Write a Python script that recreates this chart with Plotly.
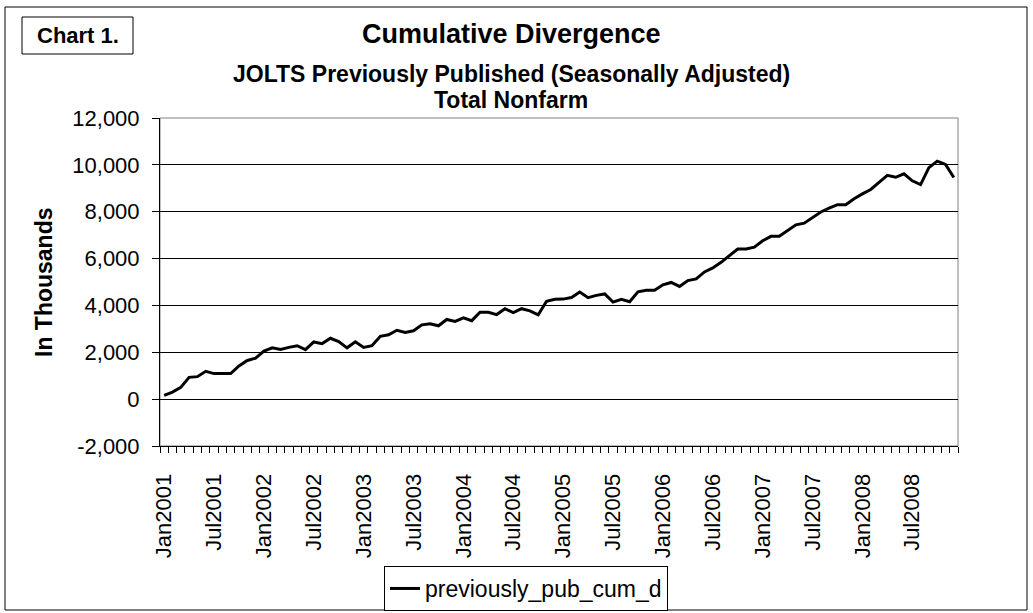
import plotly.graph_objects as go

# ---------------- data ----------------
month_names = ["Jan", "Feb", "Mar", "Apr", "May", "Jun",
               "Jul", "Aug", "Sep", "Oct", "Nov", "Dec"]
years = list(range(2001, 2009))
categories = [f"{m}{y}" for y in years for m in month_names]

previously_pub_cum_d = [
    160, 300, 500, 930, 960, 1190, 1090, 1090, 1090, 1420, 1650, 1750,      # 2001
    2050, 2190, 2120, 2210, 2280, 2110, 2440, 2370, 2600, 2460, 2190, 2450,  # 2002
    2210, 2280, 2680, 2750, 2940, 2850, 2920, 3170, 3220, 3130, 3400, 3320,  # 2003
    3470, 3350, 3710, 3710, 3610, 3860, 3690, 3860, 3770, 3600, 4180, 4260,  # 2004
    4270, 4340, 4570, 4330, 4430, 4490, 4140, 4260, 4160, 4580, 4650, 4650,  # 2005
    4880, 4980, 4810, 5060, 5130, 5430, 5600, 5840, 6130, 6410, 6410, 6490,  # 2006
    6760, 6950, 6950, 7200, 7440, 7510, 7740, 7990, 8150, 8300, 8300, 8550,  # 2007
    8760, 8950, 9250, 9550, 9470, 9620, 9320, 9160, 9880, 10160, 10020, 9460 # 2008
]

y_tick_vals = [-2000, 0, 2000, 4000, 6000, 8000, 10000, 12000]
y_tick_text = ["-2,000", "0", "2,000", "4,000", "6,000", "8,000", "10,000", "12,000"]

x_tick_idx = list(range(0, len(categories), 6))
x_tick_text = [categories[i] for i in x_tick_idx]

# ---------------- layout geometry ----------------
W, H = 1033, 613
L, R, T, B = 160, 958, 118, 446


def px(x):
    return (x - L) / (R - L)


def py(y):
    return (B - y) / (B - T)


FONT = "Liberation Sans, Arial, sans-serif"
x_idx = list(range(len(categories)))

fig = go.Figure()
fig.add_trace(go.Scatter(
    x=x_idx, y=previously_pub_cum_d, mode="lines",
    name="previously_pub_cum_d",
    line=dict(color="black", width=3),
    customdata=categories,
    hovertemplate="%{customdata}: %{y:,}<extra></extra>",
))

fig.update_layout(
    width=W, height=H,
    margin=dict(l=L, r=W - R, t=T, b=H - B, autoexpand=False),
    paper_bgcolor="white", plot_bgcolor="white",
    font=dict(family=FONT, color="black", size=22),
    showlegend=True,
    legend=dict(
        orientation="h", x=px(526), xanchor="center",
        y=py(566), yanchor="top",
        bordercolor="black", borderwidth=1, bgcolor="white",
        font=dict(size=23, family=FONT),
    ),
    xaxis=dict(
        range=[-0.5, len(categories) - 0.5],
        tickmode="array", tickvals=x_tick_idx, ticktext=x_tick_text,
        tickangle=-90, ticks="outside", ticklen=6,
        tickcolor="rgba(0,0,0,0)",
        ticklabelstandoff=12,
        minor=dict(tick0=-0.5, dtick=1, ticks="outside", ticklen=6,
                   tickcolor="black", tickwidth=1, showgrid=False),
        showgrid=False, zeroline=False,
        showline=True, linecolor="black", linewidth=1,
        tickfont=dict(size=22, family=FONT),
    ),
    yaxis=dict(
        range=[-2000, 12000],
        tickmode="array", tickvals=y_tick_vals, ticktext=y_tick_text,
        ticks="outside", ticklen=7, tickcolor="black",
        ticklabelstandoff=8,
        showgrid=True, gridcolor="black", gridwidth=1,
        zeroline=True, zerolinecolor="black", zerolinewidth=1,
        showline=True, linecolor="black", linewidth=1,
        tickfont=dict(size=22, family=FONT),
    ),
    shapes=[
        # outer chart border
        dict(type="rect", xref="paper", yref="paper",
             x0=px(5), x1=px(1027), y0=py(610), y1=py(7),
             line=dict(color="black", width=1), layer="below"),
        # "Chart 1." box
        dict(type="rect", xref="paper", yref="paper",
             x0=px(22), x1=px(133), y0=py(54), y1=py(17),
             line=dict(color="black", width=1)),
        # plot-area border (right side shows gray)
        dict(type="rect", xref="paper", yref="paper",
             x0=0, x1=1, y0=0, y1=1,
             line=dict(color="#808080", width=1), layer="below"),
    ],
    annotations=[
        dict(text="<b>Chart 1.</b>", xref="paper", yref="paper",
             x=px(77.5), y=py(35.5), xanchor="center", yanchor="middle",
             showarrow=False, font=dict(size=22, family=FONT)),
        dict(text="<b>Cumulative Divergence</b>", xref="paper", yref="paper",
             x=px(511), y=py(34), xanchor="center", yanchor="middle",
             showarrow=False, font=dict(size=27, family=FONT)),
        dict(text="<b>JOLTS Previously Published (Seasonally Adjusted)</b>",
             xref="paper", yref="paper",
             x=px(511), y=py(74), xanchor="center", yanchor="middle",
             showarrow=False, font=dict(size=23, family=FONT)),
        dict(text="<b>Total Nonfarm</b>", xref="paper", yref="paper",
             x=px(511), y=py(100), xanchor="center", yanchor="middle",
             showarrow=False, font=dict(size=23, family=FONT)),
        dict(text="<b>In Thousands</b>", xref="paper", yref="paper",
             x=px(44), y=py(282), xanchor="center", yanchor="middle",
             textangle=-90, showarrow=False,
             font=dict(size=23, family=FONT)),
    ],
)

fig.write_html("out.html",
               config={"displayModeBar": False},
               post_script="document.body.style.margin='0';"
                           "document.body.style.overflow='hidden';")
